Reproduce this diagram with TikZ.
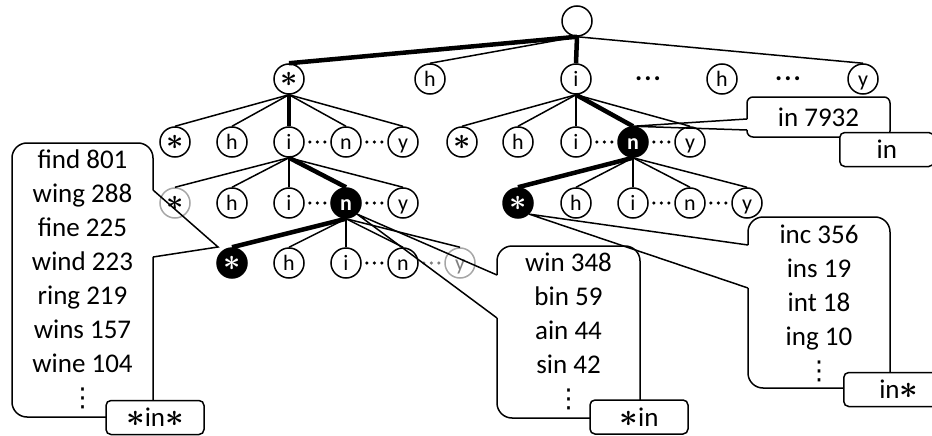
\documentclass[tikz,border=0pt]{standalone}
\usepackage{fontspec}
\setmainfont{Carlito}
\newfontfamily\dejavu{DejaVu Sans}
\usepackage{graphicx}
\usetikzlibrary{shapes,positioning,calc}

\newcommand{\wild}[1][1.3]{\scalebox{#1}{\boldmath$\ast$}}
\newcommand{\vdotsx}{{\dejavu\fontsize{26}{34}\selectfont ⋮}}

\tikzset{
  letter/.style={circle, draw, line width=1.5pt, minimum size=30pt, inner sep=0pt,
    text height=15pt, text depth=0pt, font=\fontsize{22}{26}\selectfont},
  hit/.style={letter, fill=black, text=white, font=\fontsize{22}{26}\selectfont\bfseries},
  faded/.style={letter, draw=gray!70},
  edge/.style={line width=1.5pt},
  trail/.style={line width=4.5pt},
  more/.style={line width=3.5pt, line cap=round, dash pattern=on 0pt off 7.5pt,
    shorten <=5pt, shorten >=4pt},
  bubble/.style={line width=1.5pt, rounded corners=15pt},
  words/.style={align=center, inner sep=0pt, anchor=north, font=\fontsize{27}{34}\selectfont},
  tag/.style={draw, fill=white, line width=1.5pt, rounded corners=5pt, minimum width=98pt,
    minimum height=34pt, inner sep=0pt, font=\fontsize{27}{32}\selectfont}
}

\begin{document}
\begin{tikzpicture}[x=1pt, y=-1pt]
\useasboundingbox (0,0) rectangle (932,436);
\clip (0,0) rectangle (932,436);

\node[letter] (root) at (577,21) {};

\node[letter] (ast1) at (289,79) {\wild[1.45]};
\node[letter] (h1) at (430,79) {h};
\node[letter] (i1) at (576,79) {i};
\node[inner sep=0pt, font=\fontsize{27}{32}\selectfont\bfseries] (gap1) at (648,79) {.\hspace{2pt}.\hspace{2pt}.};
\node[letter] (h1b) at (722,79) {h};
\node[inner sep=0pt, font=\fontsize{27}{32}\selectfont\bfseries] (gap2) at (788,79) {.\hspace{2pt}.\hspace{2pt}.};
\node[letter] (y1) at (863,79) {y};

\node[letter] (a2) at (175,142) {\wild[1.45]};
\node[letter] (h2) at (232,142) {h};
\node[letter] (i2) at (289,142) {i};
\node[letter] (n2) at (346,142) {n};
\node[letter] (y2) at (403,142) {y};
\node[letter] (a2r) at (462,142) {\wild[1.45]};
\node[letter] (h2r) at (518,142) {h};
\node[letter] (i2r) at (576,142) {i};
\node[hit] (n2r) at (633,142) {n};
\node[letter] (y2r) at (690,142) {y};

\node[faded] (a3) at (175,203) {\wild[1.45]};
\node[letter] (h3) at (232,203) {h};
\node[letter] (i3) at (289,203) {i};
\node[hit] (n3) at (346,203) {n};
\node[letter] (y3) at (403,203) {y};
\node[hit] (a3r) at (518,203) {\wild[1.45]};
\node[letter] (h3r) at (576,203) {h};
\node[letter] (i3r) at (633,203) {i};
\node[letter] (n3r) at (690,203) {n};
\node[letter] (y3r) at (747,203) {y};

\node[hit] (a4) at (232,263) {\wild[1.45]};
\node[letter] (h4) at (289,263) {h};
\node[letter] (i4) at (346,263) {i};
\node[letter] (n4) at (403,263) {n};
\node[faded, text=gray] (y4) at (460,263) {y};

\draw[trail] (root.south) -- (ast1.north);
\draw[trail] (root.south) -- (i1.north);
\draw[edge] (root.south) -- (h1.north);
\draw[edge] (root.south) -- (y1.north);

\foreach \c in {a2,h2,n2,y2} \draw[edge] (ast1.south) -- (\c.north);
\draw[trail] (ast1.south) -- (i2.north);
\foreach \c in {a2r,h2r,i2r,y2r} \draw[edge] (i1.south) -- (\c.north);
\draw[trail] (i1.south) -- (n2r.north);
\foreach \c in {a3,h3,i3,y3} \draw[edge] (i2.south) -- (\c.north);
\draw[trail] (i2.south) -- (n3.north);
\foreach \c in {h3r,i3r,n3r,y3r} \draw[edge] (n2r.south) -- (\c.north);
\draw[trail] (n2r.south) -- (a3r.north);
\foreach \c in {h4,i4,n4,y4} \draw[edge] (n3.south) -- (\c.north);
\draw[trail] (n3.south) -- (a4.north);

\draw[more] (i2.east) -- (n2.west);
\draw[more] (n2.east) -- (y2.west);
\draw[more] (i2r.east) -- (n2r.west);
\draw[more] (n2r.east) -- (y2r.west);
\draw[more] (i3.east) -- (n3.west);
\draw[more] (n3.east) -- (y3.west);
\draw[more] (i3r.east) -- (n3r.west);
\draw[more] (n3r.east) -- (y3r.west);
\draw[more] (i4.east) -- (n4.west);
\draw[more, gray] (n4.east) -- (y4.west);

\coordinate (tt1) at (747,119);
\coordinate (tt2) at (747,130);
\draw[bubble, rounded corners=6pt] (tt1) |- (890,97) |- (747,137) -- (tt2);
\draw[edge] (tt1) -- (n2r.north) -- (tt2);
\node[inner sep=0pt, font=\fontsize{27}{32}\selectfont] (wt) at (818.5,117.5) {in 7932};
\node[tag, anchor=west, minimum width=94pt] (kt) at (839,149.5) {in};

\coordinate (tl1) at (153,190);
\coordinate (tl2) at (153,257);
\coordinate (tipL) at (218,247);
\draw[bubble] (tl1) |- (12,143) |- (153,417) -- (tl2);
\draw[edge] (tl1) -- (tipL) -- (tl2);
\node[words] (wl) at (82.5,150) {find 801\\wing 288\\fine 225\\wind 223\\ring 219\\wins 157\\wine 104\\\vdotsx};
\node[tag] (kl) at (155,417.5) {\wild in\wild};

\coordinate (tm1) at (497,275);
\coordinate (tm2) at (497,318);
\draw[bubble] (tm1) |- (640,246) |- (497,418) -- (tm2);
\draw[edge] (tm1) -- (n3.south east) -- (tm2);
\node[words] (wm) at (568.5,253) {win 348\\bin 59\\ain 44\\sin 42\\\vdotsx};
\node[tag] (km) at (639,417) {\wild in};

\coordinate (tr1) at (748,245);
\coordinate (tr2) at (748,288);
\draw[bubble] (tr1) |- (890,217) |- (748,388) -- (tr2);
\draw[edge] (tr1) -- (a3r.south east) -- (tr2);
\node[words] (wr) at (819,225) {inc 356\\ins 19\\int 18\\ing 10\\\vdotsx};
\node[tag, anchor=west, minimum width=110pt] (kr) at (843,389.5) {in\wild};
\end{tikzpicture}
\end{document}
